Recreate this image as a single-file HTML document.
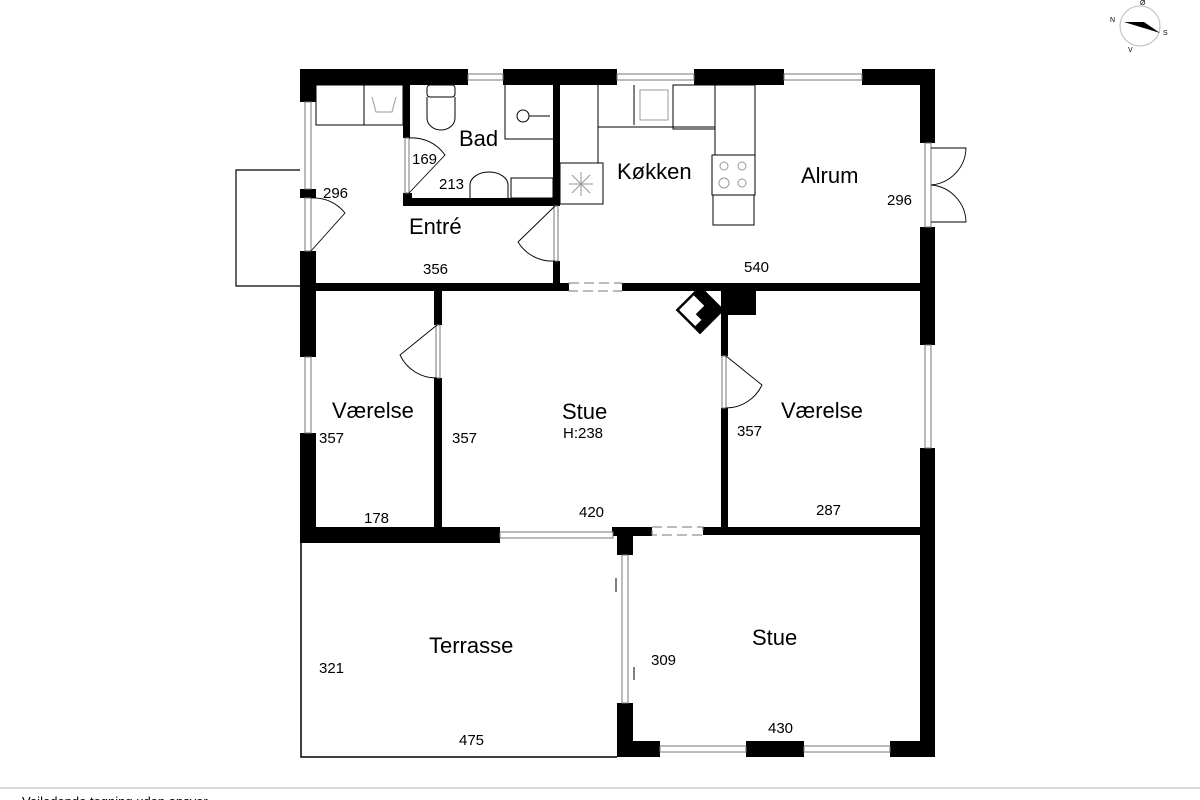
<!DOCTYPE html>
<html><head><meta charset="utf-8"><style>
html,body{margin:0;padding:0;background:#fff;}
svg{display:block;}
text{font-family:"Liberation Sans",sans-serif;fill:#000;}
.r{font-size:22px;}
.d{font-size:15px;}
</style></head><body>
<svg width="1200" height="800" viewBox="0 0 1200 800" xmlns="http://www.w3.org/2000/svg">
<polyline points="300,170 236,170 236,286 300,286" fill="none" stroke="#000" stroke-width="1.2"/>
<polyline points="301,543 301,757 617,757" fill="none" stroke="#000" stroke-width="1.5"/>

<g fill="#000">
<rect x="300" y="69" width="168" height="16"/>
<rect x="503" y="69" width="114" height="16"/>
<rect x="694" y="69" width="90" height="16"/>
<rect x="862" y="69" width="73" height="16"/>
<rect x="300" y="69" width="16" height="33"/>
<rect x="300" y="189" width="16" height="9"/>
<rect x="300" y="251" width="16" height="106"/>
<rect x="300" y="433" width="16" height="110"/>
<rect x="920" y="69" width="15" height="74"/>
<rect x="920" y="227" width="15" height="118"/>
<rect x="920" y="448" width="15" height="309"/>
<rect x="300" y="283" width="269" height="8"/>
<rect x="622" y="283" width="313" height="8"/>
<rect x="403" y="85" width="7" height="53"/>
<rect x="403" y="193" width="9" height="13"/>
<rect x="403" y="198" width="157" height="8"/>
<rect x="553" y="85" width="7" height="121"/>
<rect x="553" y="261" width="7" height="30"/>
<rect x="434" y="290" width="8" height="35"/>
<rect x="434" y="378" width="8" height="150"/>
<rect x="721" y="290" width="7" height="66"/>
<rect x="721" y="408" width="7" height="120"/>
<rect x="721" y="290" width="35" height="25"/>
<rect x="300" y="527" width="200" height="16"/>
<rect x="612" y="527" width="40" height="9"/>
<rect x="617" y="527" width="16" height="28"/>
<rect x="703" y="527" width="232" height="8"/>
<rect x="617" y="703" width="16" height="54"/>
<rect x="617" y="741" width="43" height="16"/>
<rect x="746" y="741" width="58" height="16"/>
<rect x="890" y="741" width="45" height="16"/>
</g>

<g fill="#fff" stroke="#777" stroke-width="1">
<rect x="468" y="74" width="35" height="6"/>
<rect x="617" y="74" width="77" height="6"/>
<rect x="784" y="74" width="78" height="6"/>
<rect x="305" y="102" width="6" height="87"/>
<rect x="305" y="198" width="6" height="53"/>
<rect x="305" y="357" width="6" height="76"/>
<rect x="925" y="143" width="6" height="84"/>
<rect x="925" y="345" width="6" height="103"/>
<rect x="500" y="532" width="113" height="6"/>
<rect x="622" y="555" width="6" height="148"/>
<rect x="660" y="746" width="86" height="6"/>
<rect x="804" y="746" width="86" height="6"/>
<rect x="405" y="138" width="4" height="55"/>
<rect x="554" y="206" width="4" height="55"/>
<rect x="436" y="325" width="4" height="53"/>
<rect x="722" y="356" width="4" height="52"/>
</g>
<g fill="none" stroke="#777" stroke-width="1" stroke-dasharray="10,5">
<rect x="569" y="283" width="53" height="8"/>
<rect x="652" y="527" width="51" height="8"/>
</g>

<g fill="none" stroke="#000" stroke-width="0.9">
<path d="M311,251 L345,213 A40,40 0 0 0 311,198"/>
<path d="M409,193 L445,155 A40,40 0 0 0 409,138"/>
<path d="M555,206 L518,242 A40,40 0 0 0 555,261"/>
<path d="M437,325 L400,355 A40,40 0 0 0 437,378"/>
<path d="M726,356 L762,385 A40,40 0 0 1 726,408"/>
<path d="M931,148 L966,148 A38,38 0 0 1 931,185"/>
<path d="M931,222 L966,222 A38,38 0 0 0 931,185"/>
</g>

<g fill="none" stroke="#000" stroke-width="1">
<rect x="316" y="85" width="87" height="40"/>
<line x1="364" y1="85" x2="364" y2="125"/>
<path d="M372,97 L376,112 L392,112 L396,97" stroke="#999"/>
<rect x="427" y="85" width="28" height="12" rx="3"/>
<path d="M427,97 L427,118 A14,12 0 0 0 455,118 L455,97"/>
<polyline points="505,85 505,139 553,139"/>
<circle cx="523" cy="116" r="6"/>
<line x1="529" y1="116" x2="550" y2="116"/>
<path d="M470,198 L470,185 A19,13 0 0 1 508,185 L508,198"/>
<rect x="511" y="178" width="42" height="20"/>
<polyline points="598,85 598,127 715,127"/>
<line x1="634" y1="85" x2="634" y2="125"/>
<rect x="640" y="90" width="28" height="30" stroke="#999"/>
<rect x="673" y="85" width="42" height="44"/>
<polyline points="598,127 598,163"/>
<rect x="560" y="163" width="43" height="41"/>
<rect x="715" y="85" width="40" height="70"/>
<rect x="712" y="155" width="43" height="40"/>
<rect x="713" y="195" width="41" height="30"/>
<g stroke="#999"><circle cx="724" cy="166" r="4"/><circle cx="742" cy="166" r="4"/><circle cx="724" cy="183" r="5"/><circle cx="742" cy="183" r="4"/>
<path d="M581,172 L581,196 M569,184 L593,184 M572,175 L590,193 M590,175 L572,193"/></g>
</g>
<g transform="translate(700,310) rotate(45)">
<rect x="-16" y="-16" width="32" height="32" fill="#fff" stroke="#000" stroke-width="2.5"/>
<path d="M-16,-16 H16 V16 H8 V6 H0 V-6 H-16 Z" fill="#000"/>
</g>
<g stroke="#000" stroke-width="1"><line x1="616" y1="578" x2="616" y2="592"/><line x1="634" y1="667" x2="634" y2="680"/></g>

<g fill="none" stroke="#bbb"><circle cx="1140" cy="26" r="20"/></g>
<path d="M1124,22 L1160,33 L1144,22 Z" fill="#000"/>
<text x="1110" y="22" font-size="7">N</text><text x="1163" y="35" font-size="7">S</text><text x="1140" y="5" font-size="7">Ø</text><text x="1128" y="52" font-size="7">V</text>

<text class="r" x="459" y="146">Bad</text>
<text class="r" x="617" y="179">Køkken</text>
<text class="r" x="801" y="183">Alrum</text>
<text class="r" x="409" y="234">Entré</text>
<text class="r" x="332" y="418">Værelse</text>
<text class="r" x="562" y="419">Stue</text>
<text class="d" x="563" y="438">H:238</text>
<text class="r" x="781" y="418">Værelse</text>
<text class="r" x="429" y="653">Terrasse</text>
<text class="r" x="752" y="645">Stue</text>
<text class="d" x="412" y="164">169</text>
<text class="d" x="439" y="189">213</text>
<text class="d" x="323" y="198">296</text>
<text class="d" x="887" y="205">296</text>
<text class="d" x="423" y="274">356</text>
<text class="d" x="744" y="272">540</text>
<text class="d" x="319" y="443">357</text>
<text class="d" x="452" y="443">357</text>
<text class="d" x="737" y="436">357</text>
<text class="d" x="364" y="523">178</text>
<text class="d" x="579" y="517">420</text>
<text class="d" x="816" y="515">287</text>
<text class="d" x="319" y="673">321</text>
<text class="d" x="651" y="665">309</text>
<text class="d" x="768" y="733">430</text>
<text class="d" x="459" y="745">475</text>
<line x1="0" y1="788" x2="1200" y2="788" stroke="#ccc" stroke-width="1.5"/>
<text x="22" y="806" font-size="13">Vejledende tegning uden ansvar</text>
</svg>
</body></html>
